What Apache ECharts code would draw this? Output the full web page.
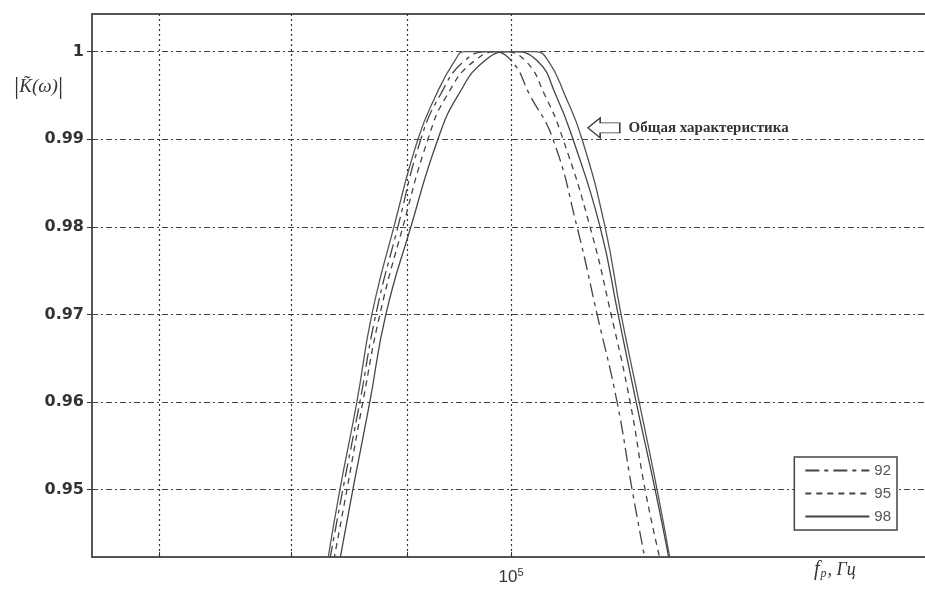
<!DOCTYPE html>
<html lang="ru">
<head>
  <meta charset="UTF-8">
  <title>K(w)</title>
  <script src="https://cdn.jsdelivr.net/npm/echarts@6/dist/echarts.min.js"></script>
</head>
<body style="margin:0">
  <div id="main" style="width: 925px;height:590px;"></div>
<script type="text/javascript">
  var chart = echarts.init(document.getElementById('main'));

  // частоты в Гц, значения |K|
  var curve92 = [[83230,0.942],[84330,0.95],[85800,0.96],[87200,0.97],[89170,0.98],[91270,0.99],[93050,0.995],[95440,0.999],[97890,1.0],[100000,0.999],[101950,0.995],[104350,0.99],[106920,0.98],[109120,0.97],[111350,0.96],[113060,0.95],[114560,0.942]];
  var curve95 = [[83570,0.942],[84680,0.95],[86060,0.96],[87560,0.97],[89620,0.98],[91930,0.99],[93710,0.995],[96410,0.999],[99090,1.0],[101430,0.999],[103510,0.995],[105420,0.99],[108340,0.98],[110680,0.97],[112830,0.96],[114560,0.95],[116320,0.942]];
  var curve98 = [[84080,0.942],[85190,0.95],[86670,0.96],[88090,0.97],[90350,0.98],[92860,0.99],[94770,0.995],[97400,0.999],[100000,1.0],[102670,0.999],[104670,0.995],[106490,0.99],[109450,0.98],[111470,0.97],[113520,0.96],[115730,0.95],[117390,0.942]];
  var curveAll = [[83060,0.942],[84080,0.95],[85540,0.96],[86850,0.97],[88810,0.98],[91000,0.99],[92670,0.995],[94480,0.999],[95440,1.0],[102470,1.0],[103820,0.999],[105630,0.995],[107470,0.99],[110000,0.98],[111800,0.97],[113870,0.96],[115960,0.95],[117500,0.942]];
  var yTicks = [0.95, 0.96, 0.97, 0.98, 0.99, 1];
  var xTicks = [70000, 80000, 90000, 100000];
  var xLabels = [100000];
  var arrowAt = [108100, 0.9913];

  var lineColor = '#444';

  option = {
    animation: false,
    backgroundColor: '#fff',
    grid: {
      left: 92, width: 836, top: 14, bottom: 33,
      outerBoundsMode: 'none',
      show: true, borderColor: '#555', borderWidth: 2
    },
    legend: {
      data: ['92', '95', '98'],
      orient: 'vertical',
      right: 28, top: 457,
      backgroundColor: '#fff',
      borderColor: '#444', borderWidth: 1.5, borderRadius: 0,
      padding: [6, 6, 6, 10],
      itemWidth: 64, itemHeight: 10, itemGap: 8,
      itemStyle: { opacity: 0 },
      textStyle: { fontSize: 15, color: '#555', fontFamily: 'Liberation Sans' }
    },
    xAxis: {
      type: 'log', logBase: 10,
      min: 65400, max: 152600,
      axisLine: { lineStyle: { color: '#555', width: 2 } },
      axisTick: { show: true, inside: true, length: 5, customValues: xTicks, lineStyle: { color: '#333' } },
      axisLabel: {
        customValues: xLabels,
        margin: 10,
        formatter: function () { return '10{s|5}'; },
        color: '#333', fontSize: 17, fontFamily: 'Liberation Sans',
        rich: { s: { fontSize: 11, verticalAlign: 'top', padding: [0, 0, 9, 0], color: '#333' } }
      },
      splitLine: { show: true, lineStyle: { color: '#333', width: 1.2, type: [2, 3] } }
    },
    yAxis: {
      type: 'value',
      min: 0.9423, max: 1.0043,
      axisLine: { show: true, lineStyle: { color: '#555', width: 2 } },
      axisTick: { show: true, length: 5, customValues: yTicks, lineStyle: { color: '#333' } },
      axisLabel: {
        customValues: yTicks,
        formatter: function (v) { return v === 1 ? '1' : v.toFixed(2); },
        color: '#333', fontSize: 16, fontWeight: 'bold', fontFamily: 'DejaVu Sans', margin: 8
      },
      splitLine: { show: true, lineStyle: { color: '#444', width: 1.2, type: [6, 3, 2, 3] } }
    },
    graphic: [
      {
        type: 'text', left: 14, top: 74,
        style: {
          text: '{b||}{k|K\u0303(\u03c9)}{b||}',
          rich: {
            b: { font: '26px "Liberation Serif"', fill: '#333' },
            k: { font: 'italic 19px "Liberation Serif"', fill: '#333' }
          }
        }
      },
      {
        type: 'text', left: 814, top: 560,
        style: {
          text: '{f|f}{p|р}{t|, Гц}',
          rich: {
            f: { font: 'italic 20px "Liberation Serif"', fill: '#333' },
            p: { font: 'italic 12px "Liberation Serif"', fill: '#333', verticalAlign: 'bottom', padding: [7, 1, 0, 1] },
            t: { font: 'italic 18px "Liberation Serif"', fill: '#333' }
          }
        }
      }
    ],
    series: [
      {
        name: '92', type: 'line', smooth: true, symbol: 'none',
        lineStyle: { color: lineColor, width: 1.3, type: [14, 5, 4, 5] },
        itemStyle: { color: lineColor },
        data: curve92
      },
      {
        name: '95', type: 'line', smooth: true, symbol: 'none',
        lineStyle: { color: lineColor, width: 1.3, type: [6, 5] },
        itemStyle: { color: lineColor },
        data: curve95
      },
      {
        name: '98', type: 'line', smooth: true, symbol: 'none',
        lineStyle: { color: lineColor, width: 1.3 },
        itemStyle: { color: lineColor },
        data: curve98
      },
      {
        name: 'Общая характеристика', type: 'line', smooth: true, symbol: 'none',
        lineStyle: { color: '#555', width: 1.3 },
        itemStyle: { color: '#555' },
        data: curveAll,
        markPoint: {
          symbol: 'path://M0,10 L10,0 L10,5 L26,5 L26,15 L10,15 L10,20 Z',
          symbolSize: [32, 20],
          symbolOffset: ['50%', 0],
          itemStyle: { color: '#fff', borderColor: '#333', borderWidth: 1.2 },
          label: {
            show: true, position: 'right', distance: 8,
            formatter: 'Общая характеристика',
            color: '#333', fontSize: 15, fontWeight: 'bold', fontFamily: 'Liberation Serif'
          },
          data: [{ coord: arrowAt }]
        }
      }
    ]
  };

  chart.setOption(option);
</script>
</body>
</html>
